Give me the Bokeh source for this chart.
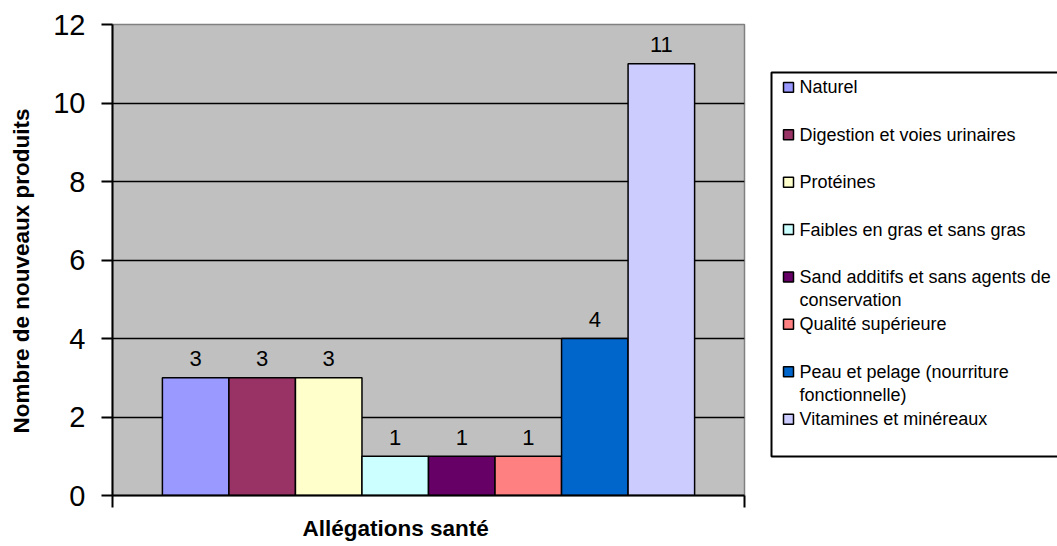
import math
import textwrap

from bokeh.core.properties import value
from bokeh.embed import file_html
from bokeh.layouts import row
from bokeh.models import FixedTicker, Range1d, Title
from bokeh.plotting import figure
from bokeh.resources import INLINE

# ---- data -------------------------------------------------------------
categories = [
    "Naturel",
    "Digestion et voies urinaires",
    "Protéines",
    "Faibles en gras et sans gras",
    "Sand additifs et sans agents de conservation",
    "Qualité supérieure",
    "Peau et pelage (nourriture fonctionnelle)",
    "Vitamines et minéreaux",
]
counts = [3, 3, 3, 1, 1, 1, 4, 11]
colors = ["#9999FF", "#993366", "#FFFFCC", "#CCFFFF",
          "#660066", "#FF8080", "#0066CC", "#CCCCFF"]
y_ticks = [0, 2, 4, 6, 8, 10, 12]
y_title = "Nombre de nouveaux produits"
x_title = "Allégations santé"

# ---- page layout (pixels) --------------------------------------------
FONT = "Liberation Sans"
H = 546
FRAME_TOP, FRAME_BOTTOM = 24, 496
TITLE_W, MAIN_W, LEGEND_W = 40, 720, 297
FRAME_LEFT = 112                      # left edge of the bar area on the page


def pixel_panel(width):
    """A bare figure whose data coordinates are page pixels (y downward)."""
    f = figure(
        width=width, height=H,
        x_range=Range1d(0, width), y_range=Range1d(FRAME_BOTTOM, FRAME_TOP),
        x_axis_location=None, y_axis_location=None,
        output_backend="svg", toolbar_location=None,
        min_border_left=0, min_border_right=0,
        min_border_top=FRAME_TOP, min_border_bottom=H - FRAME_BOTTOM,
    )
    f.grid.visible = False
    f.outline_line_color = None
    f.background_fill_color = "white"
    f.border_fill_color = "white"
    return f


# ---- vertical axis title ----------------------------------------------
ytitle = pixel_panel(TITLE_W)
ytitle.text(x=[21], y=[271], text=[y_title], angle=math.pi / 2,
            text_align="center", text_baseline="middle",
            text_font=value(FONT), text_font_size="22.5px",
            text_font_style="bold", text_color="black")

# ---- bar chart ----------------------------------------------------------
GAP = 1.5            # empty space around the bar cluster, in bar widths
n = len(categories)
x_lo, x_hi = -GAP / 2, n + GAP / 2
bar_x = [i + 0.5 for i in range(n)]

p = figure(
    width=MAIN_W, height=H,
    x_range=Range1d(x_lo, x_hi), y_range=Range1d(y_ticks[0], y_ticks[-1]),
    output_backend="svg", toolbar_location=None,
    min_border_left=FRAME_LEFT - TITLE_W, min_border_right=16,
    min_border_top=FRAME_TOP, min_border_bottom=H - FRAME_BOTTOM,
)
p.background_fill_color = "#C0C0C0"
p.border_fill_color = "white"
p.outline_line_color = "#808080"
p.outline_line_width = 1.5

p.xgrid.visible = False
p.ygrid.ticker = FixedTicker(ticks=y_ticks[1:-1])
p.ygrid.grid_line_color = "black"
p.ygrid.grid_line_width = 1.3

p.yaxis.ticker = FixedTicker(ticks=y_ticks)
p.yaxis.major_label_text_font = FONT
p.yaxis.major_label_text_font_size = "29px"
p.yaxis.major_label_text_color = "black"
p.yaxis.major_label_standoff = 16
p.yaxis.major_tick_out = 11
p.yaxis.major_tick_in = 0
p.yaxis.minor_tick_out = 0
p.yaxis.minor_tick_in = 0
p.yaxis.axis_line_width = 2
p.yaxis.major_tick_line_width = 2
p.yaxis.axis_line_color = "black"

# category boundaries only, no labels
p.xaxis.ticker = FixedTicker(ticks=[x_lo, x_hi])
p.xaxis.major_label_overrides = {x_lo: "", x_hi: ""}
p.xaxis.major_label_standoff = 0
p.xaxis.major_tick_out = 12
p.xaxis.major_tick_in = 0
p.xaxis.minor_tick_out = 0
p.xaxis.minor_tick_in = 0
p.xaxis.axis_line_width = 2
p.xaxis.major_tick_line_width = 2
p.xaxis.axis_line_color = "black"

p.add_layout(Title(text=x_title, align="left", offset=190, standoff=12,
                   text_font=FONT, text_font_size="22.5px",
                   text_font_style="bold", text_color="black"), "below")

p.vbar(x=bar_x, top=counts, width=1, fill_color=colors,
       line_color="black", line_width=1.5)
p.text(x=bar_x, y=counts, text=[str(c) for c in counts],
       text_align="center", text_baseline="alphabetic", y_offset=-19,
       text_font=value(FONT), text_font_size="22px", text_color="black")

# ---- legend -------------------------------------------------------------
leg = pixel_panel(LEGEND_W)

BOX_L, BOX_T, BOX_B = 11, 72, 457
ROW_Y0, ROW_STEP, LINE_STEP = 87, 47.5, 23
SWATCH_X, TEXT_X = 28, 39

leg.quad(left=BOX_L, right=LEGEND_W + 20, top=BOX_T, bottom=BOX_B,
         fill_color="white", line_color="black", line_width=2)

sw_y, tx, ty, tt = [], [], [], []
for i, name in enumerate(categories):
    y = ROW_Y0 + i * ROW_STEP
    sw_y.append(y)
    for j, line in enumerate(textwrap.wrap(name, 32)):
        tx.append(TEXT_X)
        ty.append(y + j * LINE_STEP)
        tt.append(line)

leg.rect(x=[SWATCH_X] * n, y=sw_y, width=10, height=10,
         fill_color=colors, line_color="black", line_width=1.5)
leg.text(x=tx, y=ty, text=tt, text_align="left", text_baseline="middle",
         text_font=value(FONT), text_font_size="18px", text_color="black")

layout = row(ytitle, p, leg, spacing=0)
open("out.html", "w").write(file_html(layout, INLINE))
